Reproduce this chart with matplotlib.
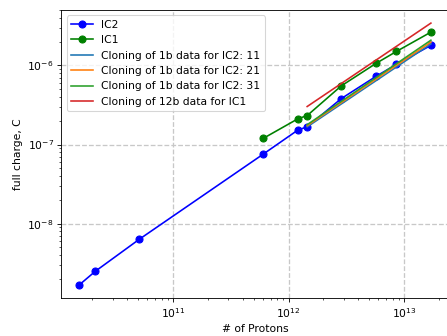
import matplotlib
matplotlib.use("Agg")
import matplotlib.pyplot as plt

# IC2 data
ic2_protons = [1.53e10, 2.12e10, 5.1e10, 6.07e11, 1.21e12, 1.45e12, 2.86e12, 5.73e12, 8.6e12, 1.71e13]
ic2_charge = [1.67e-9, 2.5e-9, 6.35e-9, 7.6e-8, 1.53e-7, 1.67e-7, 3.8e-7, 7.27e-7, 1.03e-6, 1.79e-6]

# IC1 data
ic1_protons = [6.07e11, 1.21e12, 1.45e12, 2.86e12, 5.73e12, 8.6e12, 1.71e13]
ic1_charge = [1.2e-7, 2.12e-7, 2.32e-7, 5.5e-7, 1.06e-6, 1.5e-6, 2.63e-6]

# Cloning lines
clone_protons = [1.45e12, 1.71e13]
clone_11 = [1.67e-7, 1.87e-6]
clone_21 = [1.73e-7, 1.97e-6]
clone_31 = [1.78e-7, 2.08e-6]
clone_12b = [3.02e-7, 3.42e-6]

W, H = 447, 336
dpi = 77.7
fig = plt.figure(figsize=(W / dpi, H / dpi), dpi=dpi)
left, right, top, bottom = 61.3, 448.5, 10.0, 298.3
ax = fig.add_axes([left / W, (H - bottom) / H, (right - left) / W, (bottom - top) / H])

ax.plot(ic2_protons, ic2_charge, 'o-', color='b', markersize=6.5, label='IC2')
ax.plot(ic1_protons, ic1_charge, 'o-', color='g', markersize=6.5, label='IC1')
ax.plot(clone_protons, clone_11, color='C0', label='Cloning of 1b data for IC2: 11')
ax.plot(clone_protons, clone_21, color='C1', label='Cloning of 1b data for IC2: 21')
ax.plot(clone_protons, clone_31, color='C2', label='Cloning of 1b data for IC2: 31')
ax.plot(clone_protons, clone_12b, color='C3', label='Cloning of 12b data for IC1')

ax.set_xscale('log')
ax.set_yscale('log')
ax.grid(True, which='major', linestyle='--', color='#c8c8c8', linewidth=1.2)
ax.set_xlabel('# of Protons')
ax.set_ylabel('full charge, C')
ax.legend(loc='upper left')

fig.savefig('out.png', dpi=dpi)
